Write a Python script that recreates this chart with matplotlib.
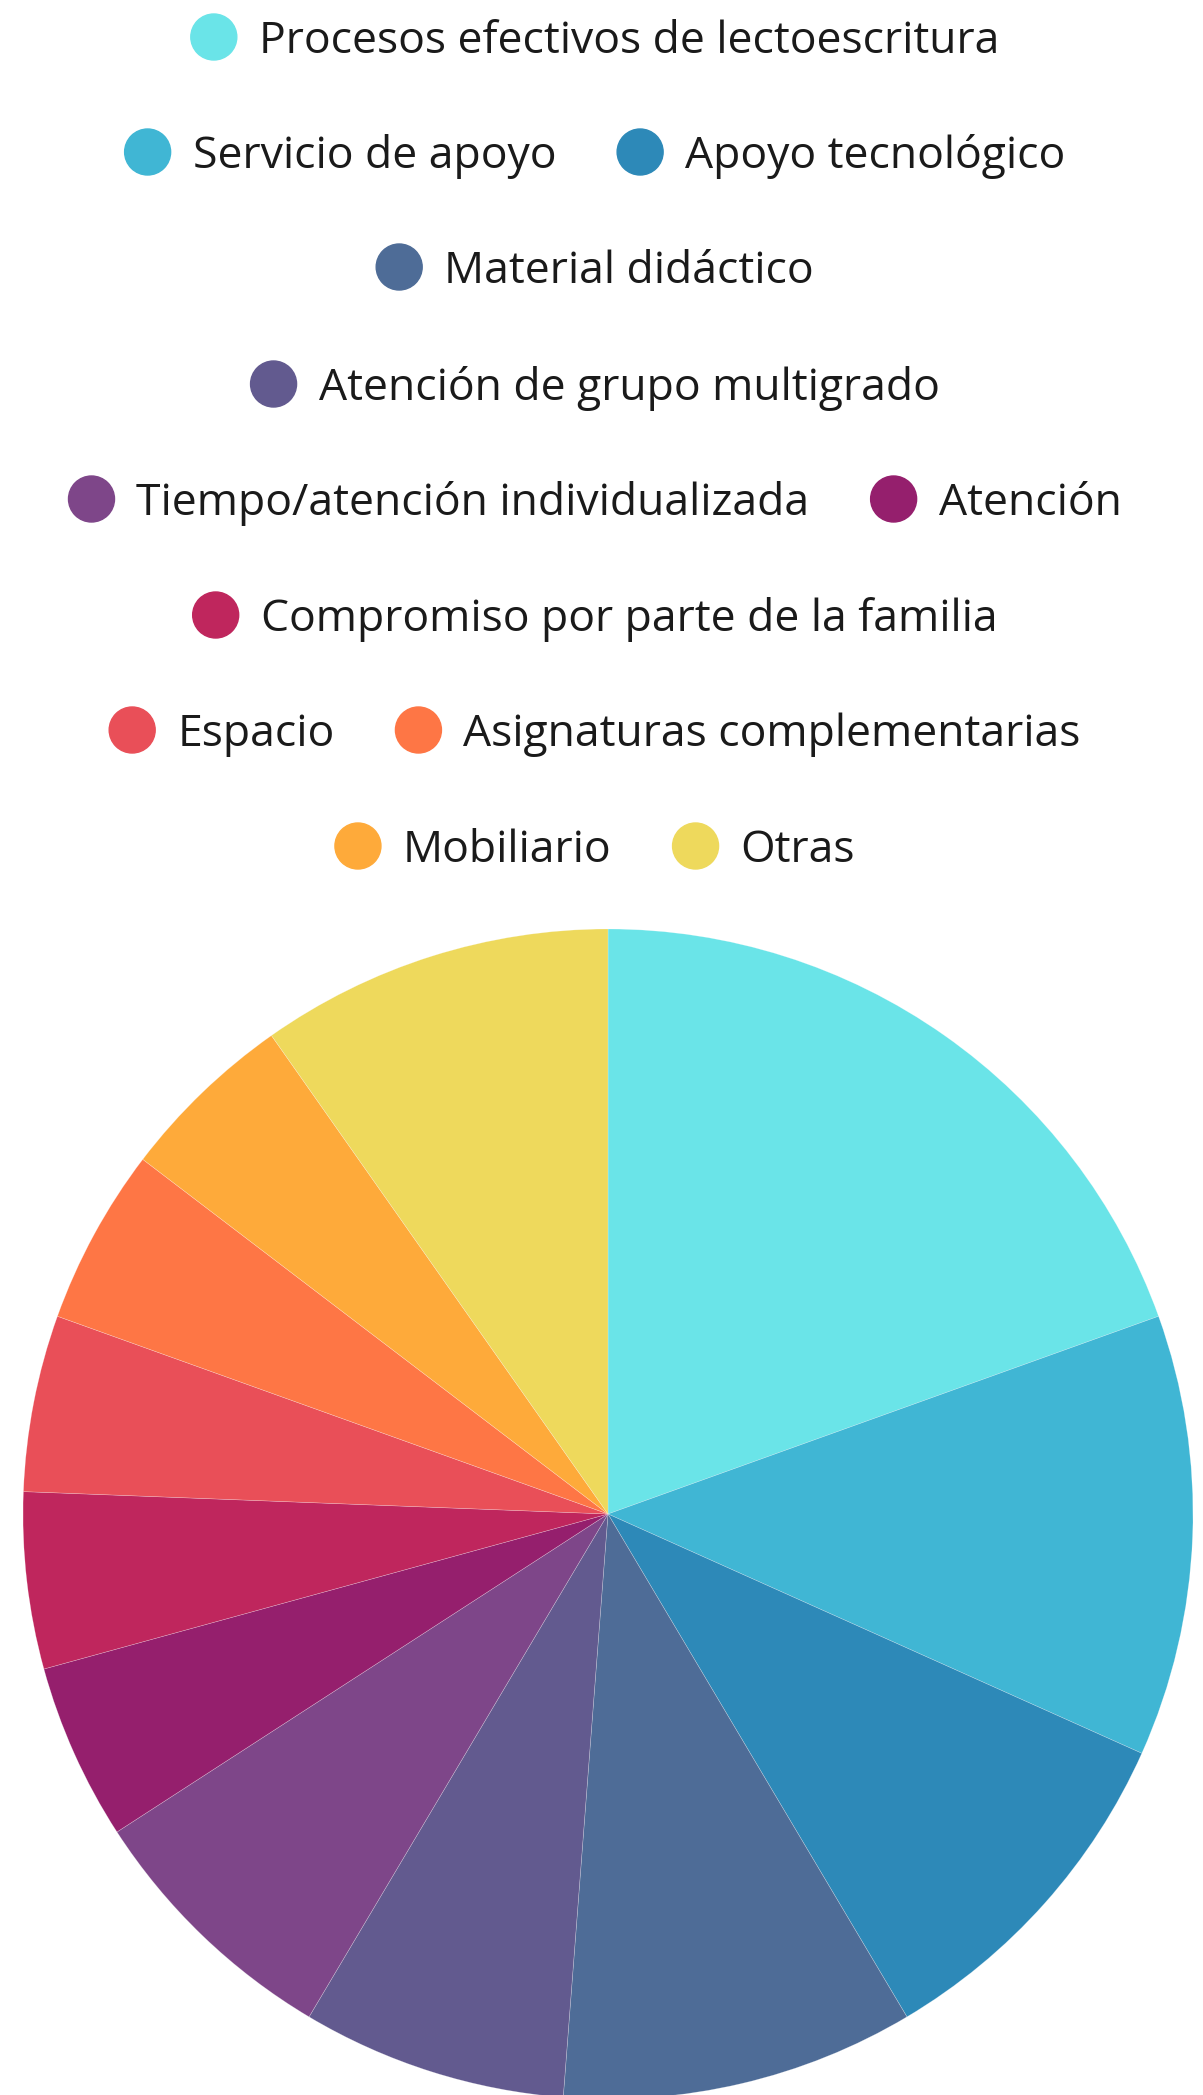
import matplotlib.pyplot as plt
from matplotlib.patches import Ellipse

labels = [
    "Procesos efectivos de lectoescritura",
    "Servicio de apoyo",
    "Apoyo tecnológico",
    "Material didáctico",
    "Atención de grupo multigrado",
    "Tiempo/atención individualizada",
    "Atención",
    "Compromiso por parte de la familia",
    "Espacio",
    "Asignaturas complementarias",
    "Mobiliario",
    "Otras",
]
values = [8, 5, 4, 4, 3, 3, 2, 2, 2, 2, 2, 4]
colors = [
    "#6ae4e8", "#40b6d4", "#2d89b8", "#4e6c97", "#625a8f", "#7e4689",
    "#951f6d", "#bf265d", "#e94f58", "#fe7645", "#feaa3a", "#eed95c",
]
# legend rows (indices into labels)
rows = [[0], [1, 2], [3], [4], [5, 6], [7], [8, 9], [10, 11]]

W, H = 1203, 2095
fig = plt.figure(figsize=(W / 100, H / 100), dpi=100)
fig.patch.set_facecolor("white")

# pie: centre (608, 1514) px, radius 585 px
cx, cy, r = 608, 1514, 585
ax = fig.add_axes([(cx - r) / W, (H - cy - r) / H, 2 * r / W, 2 * r / H])
ax.pie(values, colors=colors, startangle=90, counterclock=False, radius=1,
       wedgeprops=dict(linewidth=0.4, edgecolor=(1, 1, 1, 0.35)))
ax.set_xlim(-1, 1)
ax.set_ylim(-1, 1)
ax.set_aspect("equal")
ax.axis("off")
for p in ax.patches:
    p.set_clip_on(False)

# legend drawn by hand in pixel coordinates
lax = fig.add_axes([0, 0, 1, 1])
lax.set_xlim(0, W)
lax.set_ylim(H, 0)
lax.axis("off")

fs = 32
font = "Open Sans"
renderer = fig.canvas.get_renderer()


def text_width(s):
    t = lax.text(0, 0, s, fontsize=fs, family=font)
    w = t.get_window_extent(renderer).width
    t.remove()
    return w


row_y = [37, 152, 267, 384, 499, 615, 730, 846]
dot_r = 23
dot_to_text = 45
item_gap = 84
row_center = 595

for ri, row in enumerate(rows):
    widths = [text_width(labels[i]) for i in row]
    total = sum(dot_to_text + w for w in widths) + dot_r + item_gap * (len(row) - 1)
    x = row_center - total / 2
    y = row_y[ri]
    for i, w in zip(row, widths):
        lax.add_patch(Ellipse((x + dot_r, y), 2 * dot_r, 2 * dot_r, color=colors[i]))
        lax.text(x + dot_r + dot_to_text, y + 16, labels[i], fontsize=fs, family=font,
                 color="#1a1a1a", va="baseline", ha="left")
        x += dot_to_text + w + item_gap

fig.savefig("out.png", dpi=100, facecolor="white")
